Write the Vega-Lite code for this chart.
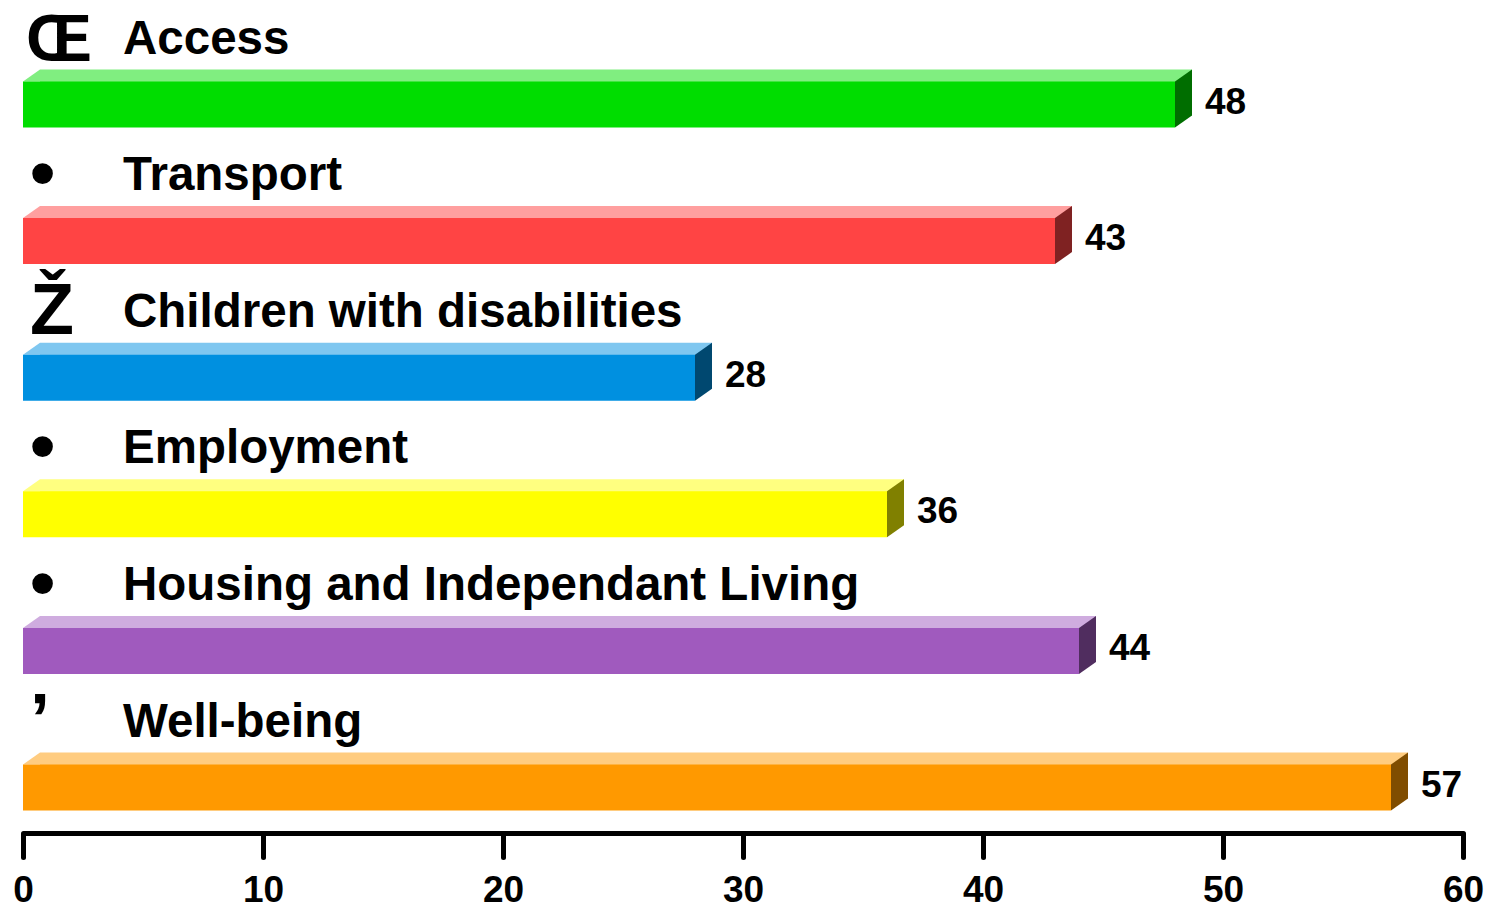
{
  "$schema": "https://vega.github.io/schema/vega-lite/v6.json",
  "width": 1440,
  "height": 833,
  "autosize": {"type": "none"},
  "padding": {"left": 23, "top": 0, "right": 27, "bottom": 75},
  "background": "white",
  "config": {
    "view": {"stroke": null},
    "font": "Liberation Sans",
    "axisX": {
      "grid": false,
      "domainColor": "black",
      "domainWidth": 5,
      "tickColor": "black",
      "tickWidth": 5,
      "tickSize": 24,
      "tickCap": "round",
      "labelFont": "Liberation Sans",
      "labelFontSize": 37,
      "labelFontWeight": "bold",
      "labelColor": "black",
      "labelPadding": 15,
      "labelFlush": false,
      "labelOverlap": false
    }
  },
  "data": {
    "values": [
      {"cat": "Access", "sym": "Œ", "value": 48},
      {"cat": "Transport", "sym": "•", "value": 43},
      {"cat": "Children with disabilities", "sym": "Ž", "value": 28},
      {"cat": "Employment", "sym": "•", "value": 36},
      {"cat": "Housing and Independant Living", "sym": "•", "value": 44},
      {"cat": "Well-being", "sym": "’", "value": 57}
    ]
  },
  "encoding": {
    "y": {
      "field": "cat",
      "type": "nominal",
      "sort": null,
      "axis": null,
      "scale": {"type": "band", "paddingInner": 0.6633, "paddingOuter": 0.3807, "align": 0.7837}
    }
  },
  "layer": [
    {
      "mark": {"type": "bar", "xOffset": 17, "x2Offset": 17, "yOffset": -12},
      "encoding": {
        "x": {"field": "value", "type": "quantitative", "title": null,
              "scale": {"domain": [0, 60], "nice": false},
              "axis": {"values": [0, 10, 20, 30, 40, 50, 60], "title": null}},
        "x2": {"datum": 0},
        "color": {"field": "cat", "type": "nominal", "legend": null,
                  "scale": {"domain": ["Access", "Transport", "Children with disabilities", "Employment", "Housing and Independant Living", "Well-being"],
                            "range": ["#80EE80", "#FF9F9F", "#7FC7F0", "#FFFF80", "#CFACDF", "#FFCC80"]}}
      }
    },
    {
      "mark": {"type": "point", "shape": "M0,-23L17,-35L17,-23Z", "size": 4, "filled": true, "opacity": 1, "strokeWidth": 0},
      "encoding": {
        "x": {"datum": 0, "type": "quantitative", "title": null,
              "scale": {"domain": [0, 60], "nice": false},
              "axis": {"values": [0, 10, 20, 30, 40, 50, 60], "title": null}},
        "color": {"field": "cat", "type": "nominal", "legend": null,
                  "scale": {"domain": ["Access", "Transport", "Children with disabilities", "Employment", "Housing and Independant Living", "Well-being"],
                            "range": ["#80EE80", "#FF9F9F", "#7FC7F0", "#FFFF80", "#CFACDF", "#FFCC80"]}}
      }
    },
    {
      "mark": {"type": "point", "shape": "M0,-23L17,-35L17,11L0,23Z", "size": 4, "filled": true, "opacity": 1, "strokeWidth": 0},
      "encoding": {
        "x": {"field": "value", "type": "quantitative", "title": null,
              "scale": {"domain": [0, 60], "nice": false},
              "axis": {"values": [0, 10, 20, 30, 40, 50, 60], "title": null}},
        "color": {"field": "cat", "type": "nominal", "legend": null,
                  "scale": {"domain": ["Access", "Transport", "Children with disabilities", "Employment", "Housing and Independant Living", "Well-being"],
                            "range": ["#006E00", "#7F2222", "#004870", "#808000", "#502D5F", "#804D00"]}}
      }
    },
    {
      "mark": {"type": "bar"},
      "encoding": {
        "x": {"field": "value", "type": "quantitative", "title": null,
              "scale": {"domain": [0, 60], "nice": false},
              "axis": {"values": [0, 10, 20, 30, 40, 50, 60], "title": null}},
        "x2": {"datum": 0},
        "color": {"field": "cat", "type": "nominal", "legend": null,
                  "scale": {"domain": ["Access", "Transport", "Children with disabilities", "Employment", "Housing and Independant Living", "Well-being"],
                            "range": ["#00DD00", "#FF4444", "#0090E0", "#FFFF00", "#A05ABE", "#FF9900"]}}
      }
    },
    {
      "mark": {"type": "text", "align": "left", "baseline": "alphabetic", "fontSize": 47.5, "fontWeight": "bold", "color": "black", "xOffset": 100, "yOffset": -51},
      "encoding": {
        "x": {"datum": 0, "type": "quantitative", "title": null,
              "scale": {"domain": [0, 60], "nice": false},
              "axis": {"values": [0, 10, 20, 30, 40, 50, 60], "title": null}},
        "text": {"field": "cat"}
      }
    },
    {
      "transform": [{"filter": {"field": "cat", "equal": "Access"}}],
      "mark": {"type": "text", "align": "left", "baseline": "alphabetic", "fontSize": 66, "fontWeight": "bold", "font": "Liberation Sans Narrow, Liberation Sans", "color": "black", "xOffset": 3, "yOffset": -44},
      "encoding": {
        "x": {"datum": 0, "type": "quantitative", "title": null,
              "scale": {"domain": [0, 60], "nice": false},
              "axis": {"values": [0, 10, 20, 30, 40, 50, 60], "title": null}},
        "text": {"field": "sym"}
      }
    },
    {
      "transform": [{"filter": {"not": {"field": "cat", "equal": "Access"}}}],
      "mark": {"type": "text", "align": "left", "baseline": "alphabetic", "fontSize": 72, "fontWeight": "bold", "color": "black", "xOffset": 7, "yOffset": -44},
      "encoding": {
        "x": {"datum": 0, "type": "quantitative", "title": null,
              "scale": {"domain": [0, 60], "nice": false},
              "axis": {"values": [0, 10, 20, 30, 40, 50, 60], "title": null}},
        "text": {"field": "sym"}
      }
    },
    {
      "mark": {"type": "text", "align": "left", "baseline": "alphabetic", "fontSize": 37, "fontWeight": "bold", "color": "black", "xOffset": 30, "yOffset": 9},
      "encoding": {
        "x": {"field": "value", "type": "quantitative", "title": null,
              "scale": {"domain": [0, 60], "nice": false},
              "axis": {"values": [0, 10, 20, 30, 40, 50, 60], "title": null}},
        "text": {"field": "value"}
      }
    }
  ],
  "resolve": {"scale": {"color": "independent"}}
}
